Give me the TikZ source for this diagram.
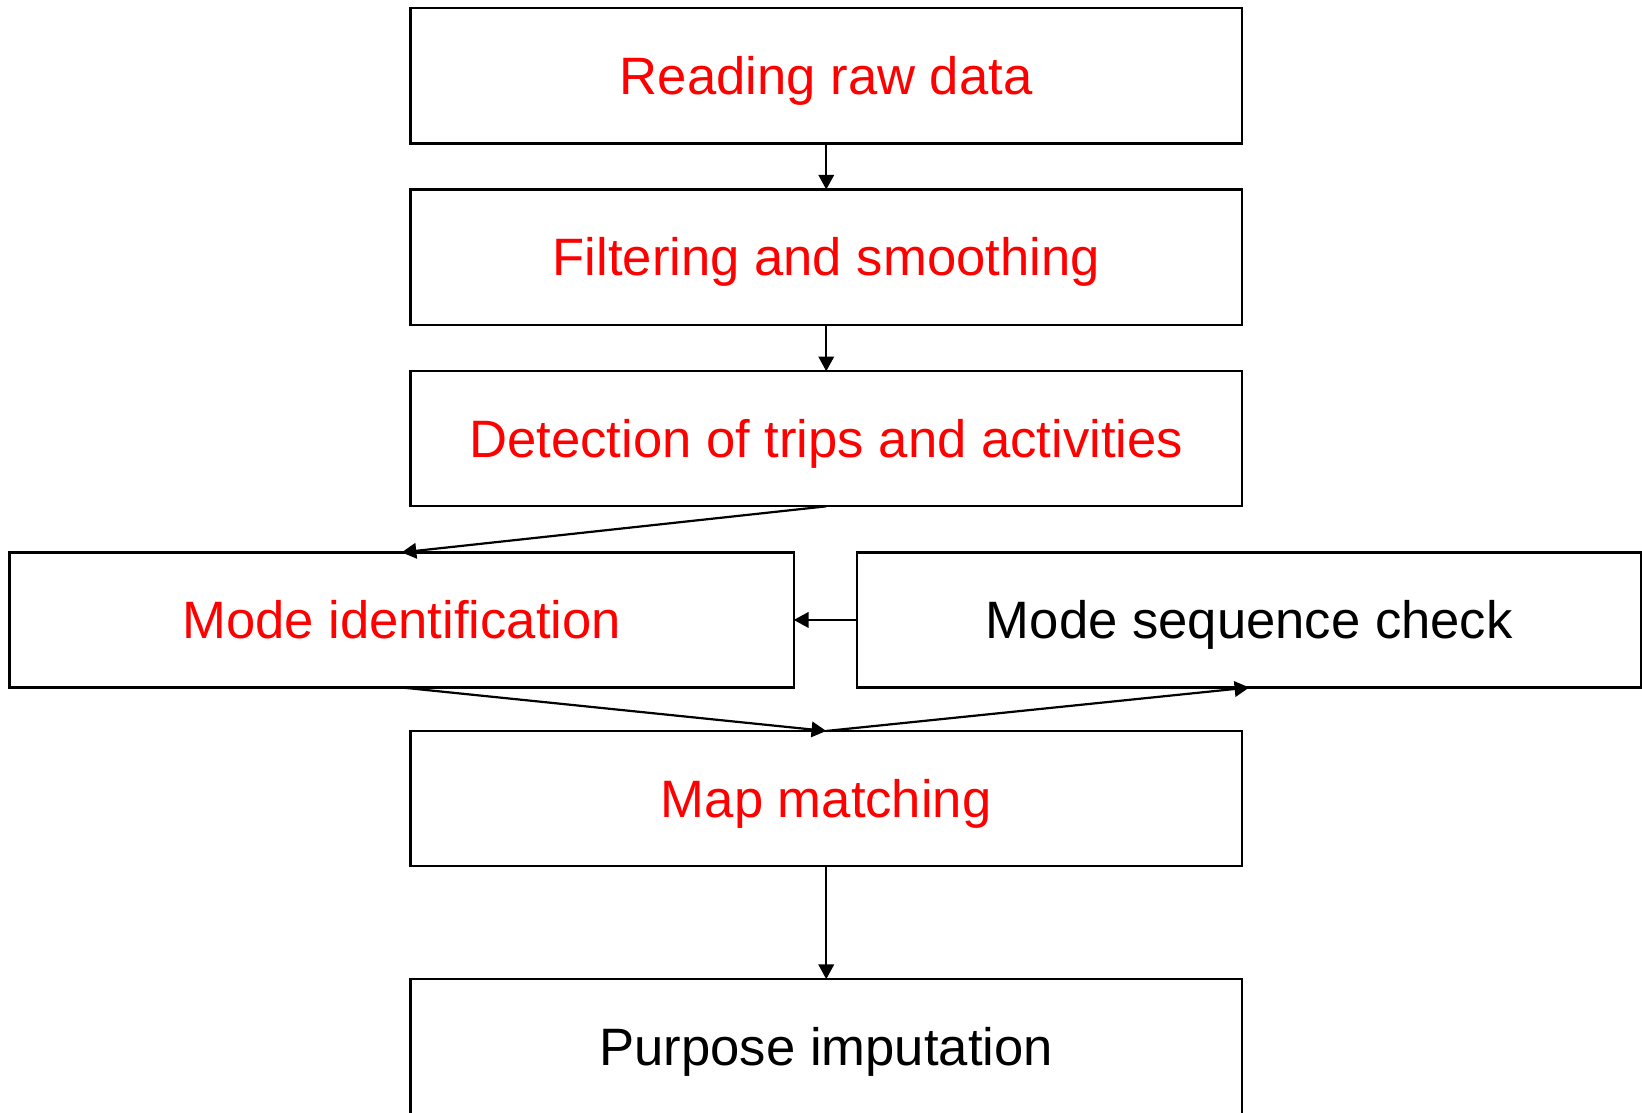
\documentclass[tikz,border=0pt]{standalone}
\usepackage{fontspec}
\setmainfont{Liberation Sans}
\usetikzlibrary{arrows.meta}
\tikzset {
    stage/.style = {draw, line width = 0.6pt, inner sep = 0pt, outer sep = 0pt,
        minimum width = 7.94cm, minimum height = 1.29cm,
        text height = 10.2pt, text depth = 0pt,
        font = \fontsize{14.3}{17}\selectfont},
    red stage/.style = {stage, text = red},
    side stage/.style = {minimum width = 7.49cm},
    flow/.style = {line width = 0.6pt, -{Triangle[length = 4pt, width = 4.2pt]}}
}

\begin{document}
\begin{tikzpicture}
    \useasboundingbox (0, 0) rectangle (15.68, -10.62);
    % main column
    \node (read) [red stage] at (7.89, -0.725) {Reading raw data};
    \node (filter) [red stage] at (7.89, -2.455) {Filtering and smoothing};
    \node (detect) [red stage] at (7.89, -4.19) {Detection of trips and activities};
    \node (mode) [red stage, side stage] at (3.835, -5.92) {Mode identification};
    \node (seq) [stage, side stage] at (11.93, -5.92) {Mode sequence check};
    \node (map) [red stage] at (7.89, -7.625) {Map matching};
    \node (purpose) [stage] at (7.89, -9.995) {Purpose imputation};
    % connectors
    \draw [flow] (read) -- (filter);
    \draw [flow] (filter) -- (detect);
    \draw [flow] (detect.south) -- (mode.north);
    \draw [flow] (seq.west) -- (mode.east);
    \draw [flow] (mode.south) -- (map.north);
    \draw [flow] (map.north) -- (seq.south);
    \draw [flow] (map) -- (purpose);
\end{tikzpicture}
\end{document}
